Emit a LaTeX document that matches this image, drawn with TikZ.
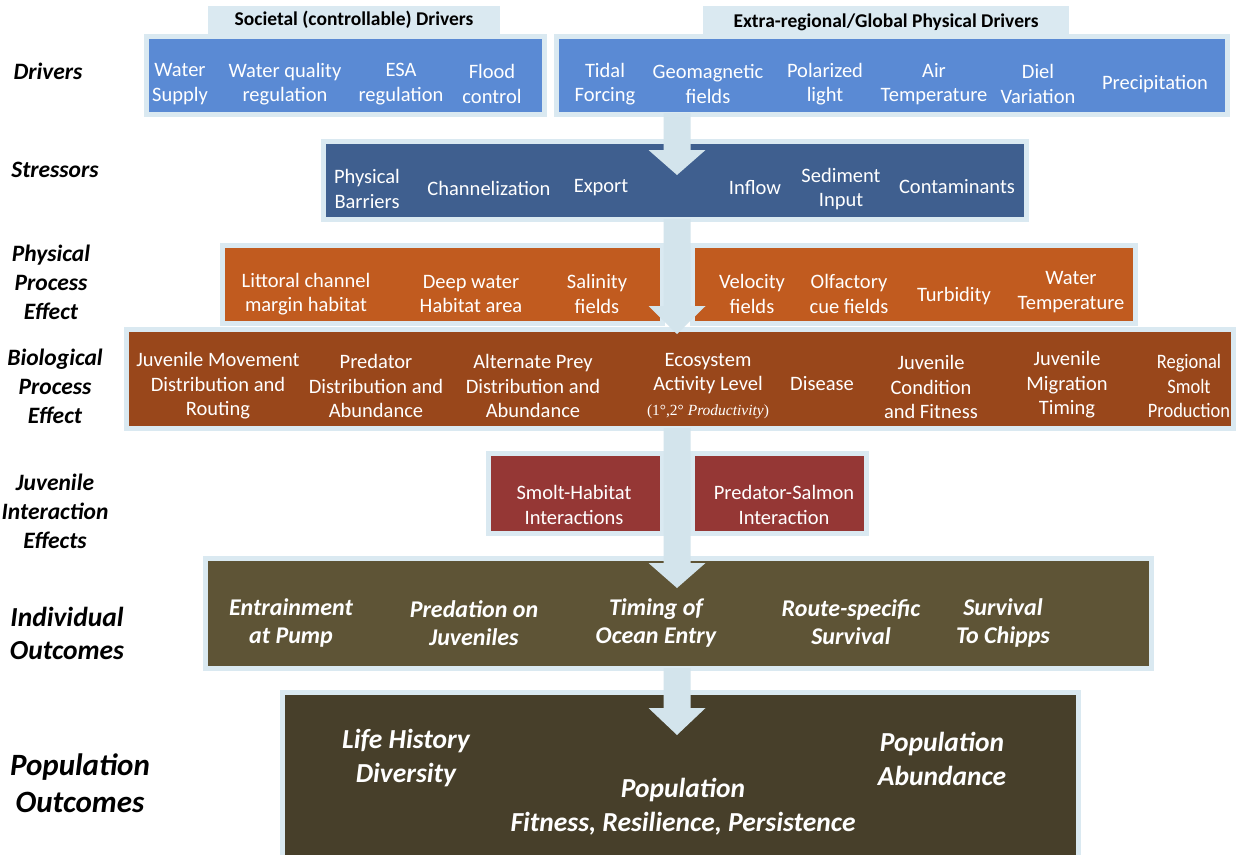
\documentclass[tikz,border=0pt]{standalone}
\usepackage{fontspec}
\setmainfont{Carlito}
\newfontfamily\cambria{Liberation Serif}
\newfontfamily\narrowfont[FakeStretch=0.9]{Carlito}
\usetikzlibrary{calc}
\definecolor{lb}{HTML}{DAE9F1}
\definecolor{shaft}{HTML}{D3E4EC}
\definecolor{drv}{HTML}{5A8AD4}
\definecolor{strs}{HTML}{3F5F8F}
\definecolor{phys}{HTML}{C15B1F}
\definecolor{bio}{HTML}{99471B}
\definecolor{inter}{HTML}{953735}
\definecolor{indiv}{HTML}{5E5436}
\definecolor{popc}{HTML}{473F2A}
\tikzset{
  panel/.style={draw=lb, line width=5pt, inner sep=0pt, outer sep=0pt},
  tab/.style={fill=lb, inner sep=0pt, font=\bfseries\fontsize{19.5}{22}\selectfont},
  dtxt/.style={text=white, align=center, inner sep=0pt, font=\fontsize{20.5}{24.5}\selectfont},
  btxt/.style={text=white, align=center, inner sep=0pt, font=\fontsize{20.5}{24.5}\selectfont},
  itxt/.style={text=white, align=center, inner sep=0pt, font=\bfseries\itshape\fontsize{24}{28}\selectfont},
  ptxt/.style={text=white, align=center, inner sep=0pt, font=\bfseries\itshape\fontsize{27.5}{34}\selectfont},
  lab/.style={align=center, inner sep=0pt, font=\bfseries\itshape\fontsize{23.5}{29}\selectfont},
}
\newcommand\panelbox[6]{%
  \node[panel, fill=#6, minimum width={(#4)-(#2)}, minimum height={(#5)-(#3)}] (#1) at ({((#2)+(#4))/2},{((#3)+(#5))/2}) {};}
\newcommand\blockarrow[3]{%
  \fill[shaft] ($(#1)+(-13.5,0)$) -- ($(#1)+(13.5,0)$) -- ($(#2)+(13.5,-#3)$) -- ($(#2)+(28.5,-#3)$) -- (#2)
    -- ($(#2)+(-28.5,-#3)$) -- ($(#2)+(-13.5,-#3)$) -- cycle;}
\begin{document}
\begin{tikzpicture}[x=1pt,y=-1pt]
\useasboundingbox (0,0) rectangle (1238,854);
\fill[white] (0,0) rectangle (1238,854);
% header tabs
\node[tab, minimum width=292, minimum height=28] (tabsoc) at (354,20) {Societal (controllable) Drivers};
\node[tab, minimum width=366, minimum height=32] (tabglob) at (886,22) {Extra-regional/Global Physical Drivers};
% panels
\panelbox{soc}{146}{36}{544}{114}{drv}
\panelbox{glob}{556}{36}{1227}{114}{drv}
\panelbox{stress}{323}{141}{1026}{219}{strs}
\panelbox{physL}{222}{245}{662}{323}{phys}
\panelbox{physR}{692}{245}{1135}{323}{phys}
\panelbox{biop}{126}{329}{1233}{428}{bio}
\panelbox{intL}{488}{453}{662}{533}{inter}
\panelbox{intR}{692}{453}{866}{533}{inter}
\panelbox{indiv}{205}{558}{1151}{668}{indiv}
\panelbox{popu}{282}{692}{1078}{870}{popc}
% arrows
\coordinate (a1t) at (677,113); \coordinate (a1h) at (677,175);
\coordinate (a2t) at (677,219); \coordinate (a2h) at (677,334);
\coordinate (a3t) at (677,428); \coordinate (a3h) at (677,588);
\coordinate (a4t) at (677,668); \coordinate (a4h) at (677,735);
\blockarrow{a1t}{a1h}{25}
\blockarrow{a2t}{a2h}{28}
\blockarrow{a3t}{a3h}{25}
\blockarrow{a4t}{a4h}{27}
% left labels
\node[lab] (lDrv) at (48,71) {Drivers};
\node[lab] (lStr) at (55,170) {Stressors};
\node[lab] (lPhy) at (51,282) {Physical\\Process\\Effect};
\node[lab] (lBio) at (55,386) {Biological\\Process\\Effect};
\node[lab] (lJuv) at (55,511) {Juvenile\\Interaction\\Effects};
\node[lab, font=\bfseries\itshape\fontsize{27.5}{33}\selectfont] (lInd) at (67,633) {Individual\\Outcomes};
\node[lab, font=\bfseries\itshape\fontsize{31}{37}\selectfont] (lPop) at (80,783) {Population\\Outcomes};
% drivers
\node[dtxt] (d1) at (180,84) {Water\\Supply};
\node[dtxt] (d2) at (285,84) {Water quality\\regulation};
\node[dtxt] (d3) at (401,84) {ESA\\regulation};
\node[dtxt] (d4) at (492,84) {Flood\\control};
\node[dtxt] (d5) at (605,84) {Tidal\\Forcing};
\node[dtxt] (d6) at (708,84) {Geomagnetic\\fields};
\node[dtxt] (d7) at (825,84) {Polarized\\light};
\node[dtxt] (d8) at (934,84) {Air\\Temperature};
\node[dtxt] (d9) at (1038,84) {Diel\\Variation};
\node[dtxt] (d10) at (1155,84) {Precipitation};
% stressors
\node[dtxt] (s1) at (367,189) {Physical\\Barriers};
\node[dtxt] (s2) at (489,188) {Channelization};
\node[dtxt] (s3) at (601,188) {Export};
\node[dtxt] (s4) at (755,188) {Inflow};
\node[dtxt] (s5) at (841,189) {Sediment\\Input};
\node[dtxt] (s6) at (957,187) {Contaminants};
% physical
\node[dtxt] (p1) at (306,294) {Littoral channel\\margin habitat};
\node[dtxt] (p2) at (471,294) {Deep water\\Habitat area};
\node[dtxt] (p3) at (597,294) {Salinity\\fields};
\node[dtxt] (p4) at (752,294) {Velocity\\fields};
\node[dtxt] (p5) at (849,294) {Olfactory\\cue fields};
\node[dtxt] (p6) at (954,296) {Turbidity};
\node[dtxt] (p7) at (1071,292) {Water\\Temperature};
% biological
\node[btxt] (b1) at (218,386) {Juvenile Movement\\Distribution and\\Routing};
\node[btxt] (b2) at (376,386) {Predator\\Distribution and\\Abundance};
\node[btxt] (b3) at (533,386) {Alternate Prey\\Distribution and\\Abundance};
\node[btxt] (b4) at (708,386) {Ecosystem\\Activity Level\\{\cambria\fontsize{15.5}{24.5}\selectfont (1°,2° \textit{Productivity})}};
\node[btxt] (b5) at (822,384) {Disease};
\node[btxt] (b6) at (931,387) {Juvenile\\Condition\\and Fitness};
\node[btxt] (b7) at (1067,385) {Juvenile\\Migration\\Timing};
\node[btxt, font=\narrowfont\fontsize{20.5}{24.5}\selectfont] (b8) at (1189,386) {Regional\\Smolt\\Production};
% interactions
\node[dtxt] (j1) at (574,505) {Smolt-Habitat\\Interactions};
\node[dtxt] (j2) at (784,505) {Predator-Salmon\\Interaction};
% individual outcomes
\node[itxt] (i1) at (291,623) {Entrainment\\at Pump};
\node[itxt] (i2) at (474,623) {Predation on\\Juveniles};
\node[itxt] (i3) at (656,623) {Timing of\\Ocean Entry};
\node[itxt] (i4) at (851,622) {Route-specific\\Survival};
\node[itxt] (i5) at (1003,623) {Survival\\To Chipps};
% population outcomes
\node[ptxt] (o1) at (406,758) {Life History\\Diversity};
\node[ptxt] (o2) at (942,759) {Population\\Abundance};
\node[ptxt] (o3) at (683,807) {Population\\Fitness, Resilience, Persistence};
\end{tikzpicture}
\end{document}
